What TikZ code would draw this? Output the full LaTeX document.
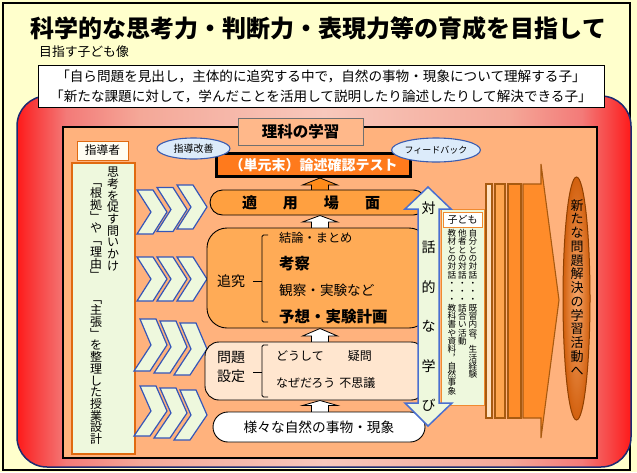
\documentclass[tikz,border=0pt]{standalone}
\usepackage{fontspec}
\setmainfont{Noto Sans CJK JP}
\usetikzlibrary{shapes.geometric}
\definecolor{bgY}{HTML}{FFFFCC}
\definecolor{frameRed}{HTML}{FF1A1A}
\definecolor{frameRedB}{HTML}{F84040}
\definecolor{frameMid}{HTML}{F37A78}
\definecolor{framePink}{HTML}{F4A898}
\definecolor{frameLight}{HTML}{F8C8BC}
\definecolor{navy}{HTML}{1C2A70}
\definecolor{panel}{HTML}{FFB27D}
\definecolor{rikaBox}{HTML}{FFB88A}
\definecolor{rikaEdge}{HTML}{707070}
\definecolor{testOr}{HTML}{FF7A1C}
\definecolor{arrOr}{HTML}{FF8C1A}
\definecolor{tekiyoC}{HTML}{FFA040}
\definecolor{tsuikyuC}{HTML}{FFAB56}
\definecolor{mondaiC}{HTML}{FFE6CF}
\definecolor{mint}{HTML}{EEF8DD}
\definecolor{paleW}{HTML}{FFFDF2}
\definecolor{chevB}{HTML}{3556B8}
\definecolor{ellB}{HTML}{DCEBFA}
\definecolor{ellEdge}{HTML}{3A5CB0}
\definecolor{orEdge}{HTML}{E06A10}
\definecolor{orEdgeB}{HTML}{F08A30}
\definecolor{dblEdge}{HTML}{4A6FD0}
\definecolor{barEdge}{HTML}{A85A10}
\definecolor{barA}{HTML}{FFE0C0}
\definecolor{barB}{HTML}{FFA54F}
\definecolor{barC}{HTML}{FF8C2A}
\definecolor{ellIn}{HTML}{F6A66A}
\definecolor{ellOut}{HTML}{D2600E}
\definecolor{ellEdgeB}{HTML}{904000}
\pgfdeclarehorizontalshading{redframe}{100bp}{color(0bp)=(frameRed); color(25bp)=(frameRed); color(26.5bp)=(frameRedB); color(29bp)=(frameMid); color(35bp)=(framePink); color(50bp)=(frameLight); color(65bp)=(framePink); color(71bp)=(frameMid); color(73.5bp)=(frameRedB); color(75bp)=(frameRed); color(100bp)=(frameRed)}
\newlength\vp \newlength\vw
\setlength\vp{12pt}\setlength\vw{14pt}
\newcommand\fs[1]{\fontsize{#1}{#1}\selectfont}
\newcommand\vcell[1]{\hbox to \vw{\hss\vbox to \vp{\vss\hbox{\vrule height .88em depth .12em width 0pt\smash{#1}}\vss}\hss}}
\makeatletter
\def\vst@end{\vst@end}
\newcommand\vst[1]{\vbox{\offinterlineskip\vst@a#1\vst@end}}
\def\vst@a#1{\ifx\vst@end#1\else\vcell{#1}\expandafter\vst@a\fi}
\makeatother
\newcommand\vtext[3]{\setlength\vp{#1}\setlength\vw{#2}\vst{#3}}
\tikzset{
 box/.style={draw=black, line width=0.9pt, inner sep=0pt},
 chev/.style={draw=chevB, line width=1.2pt, fill=mint, line join=miter},
 uparr/.style={draw=black, line width=0.8pt},
 barstyle/.style={draw=barEdge, line width=1.1pt},
 txt/.style={inner sep=0pt},
}
\newcommand\chevrow[5]{%
 \foreach \k in {0,1,2}{%
  \pgfmathsetmacro\xa{#1+20*\k}%
  \pgfmathsetmacro\yt{#2+#5*\k}%
  \pgfmathsetmacro\yb{#3+#5*\k}%
  \pgfmathsetmacro\ym{(\yt+\yb)/2}%
  \pgfmathsetmacro\sl{#4/2}%
  \draw[chev] (\xa+\sl,\yt) -- (\xa+16+\sl,\yt) -- (\xa+30,\ym) -- (\xa+16-\sl,\yb) -- (\xa-\sl,\yb) -- (\xa+14,\ym) -- cycle;
 }}
\newcommand\upblk[5]{%
 \draw[uparr, fill=#5] (#1-8.5,#2) -- (#1-8.5,#3) -- (#1-17.5,#3) -- (#1,#4) -- (#1+17.5,#3) -- (#1+8.5,#3) -- (#1+8.5,#2) -- cycle;}
\begin{document}
\begin{tikzpicture}[x=1pt,y=-1pt]
\useasboundingbox (0,0) rectangle (637,472);
\fill[bgY] (0,0) rectangle (637,472);
\draw[black,line width=1.2] (3,3) rectangle (630,470);
\node[txt, font=\fs{24}\bfseries] (title) at (318.5,28.5) {科学的な思考力・判断力・表現力等の育成を目指して};
\node[txt, anchor=west, font=\fs{12.8}] (mezasu) at (39,52) {目指す子ども像};
% red frame
\path[draw=navy, line width=1.5, rounded corners=30, shading=redframe] (17,96) rectangle (631,467);
% ideal box
\node[draw=black, line width=0.8, fill=white, minimum width=566, minimum height=42, inner sep=0, align=center, font=\fontsize{13.6}{20}\selectfont] (ideal) at (321,86) {「自ら問題を見出し，主体的に追究する中で，自然の事物・現象について理解する子」\\「新たな課題に対して，学んだことを活用して説明したり論述したりして解決できる子」};
% inner panel
\draw[fill=panel, line width=1.4] (63,127) rectangle (597,458);
% left panel
\node[draw=orEdge, line width=1.8, fill=mint, minimum width=63, minimum height=291, inner sep=0] (plan) at (103.5,308.5) {};
\node[draw=orEdge, line width=1, fill=paleW, minimum width=51, minimum height=19, inner sep=0, font=\fs{11.7}] (shidosha) at (102.5,150.5) {指導者};
\node[txt, anchor=north, font=\fs{12}] (q1) at (113,166) {\vtext{11.7pt}{14pt}{思考を促す問いかけ}};
\node[txt, anchor=north, font=\fs{12}] (q2) at (96,175.5) {\vtext{11.7pt}{14pt}{﹁根拠﹂や﹁理由﹂　﹁主張﹂を整理した授業設計}};
% chevrons
\chevrow{137}{190}{234}{0}{-2.5}
\chevrow{137}{257}{301}{0}{0}
\chevrow{137}{319}{371}{6}{2}
\chevrow{137}{386}{436}{6}{2}
% block arrows
\upblk{320}{192}{185}{178}{arrOr}
\upblk{320}{231}{222}{215.5}{white}
\upblk{320}{345}{336}{328.5}{white}
\upblk{320}{415}{405.5}{400.5}{white}
% central boxes
\node[box, fill=tekiyoC, rounded corners=12.5, minimum width=216, minimum height=25] (tekiyo) at (318,202.5) {};
\node[txt, font=\fs{15}\bfseries] (tekiyoT) at (311,203) {適\hspace{26pt}用\hspace{26pt}場\hspace{26pt}面};
\node[box, fill=tsuikyuC, rounded corners=20, minimum width=222, minimum height=100] (tsuikyu) at (318,278) {};
\node[txt, font=\fs{14}] (tsuikyuT) at (231,281) {追究};
\draw[line width=0.8, rounded corners=1.5] (268,235) -- (262,235) -- (262,322) -- (268,322);
\draw[line width=0.8] (253,281) -- (262,281);
\node[txt, anchor=west, font=\fs{12.2}] (ketsuron) at (279,237.5) {結論・まとめ};
\node[txt, anchor=west, font=\fs{15.5}\bfseries] (kosatsu) at (279,264) {考察};
\node[txt, anchor=west, font=\fs{13.6}] (kansatsu) at (279,290) {観察・実験など};
\node[txt, anchor=west, font=\fs{15.5}\bfseries] (yoso) at (279,317) {予想・実験計画};
\node[box, fill=mondaiC, rounded corners=14, minimum width=220, minimum height=58] (mondai) at (315,371) {};
\node[txt, align=center, font=\fontsize{14}{19}\selectfont] (mondaiT) at (231,367.5) {問題\\設定};
\draw[line width=0.8, rounded corners=1.5] (268,345) -- (262,345) -- (262,397) -- (268,397);
\draw[line width=0.8] (253,372) -- (262,372);
\node[txt, anchor=west, font=\fs{12}] (doushite) at (276,355.5) {どうして\hspace{24pt}疑問};
\node[txt, anchor=west, font=\fs{12}] (nazedarou) at (276,383) {なぜだろう\hspace{4pt}不思議};
\node[box, fill=white, rounded corners=15, minimum width=212, minimum height=30, font=\fs{13.7}] (yoyo) at (319,427) {様々な自然の事物・現象};
% top boxes
\node[draw=black, line width=3, fill=testOr, minimum width=194, minimum height=23, inner sep=0, text=white, font=\fs{14}\bfseries] (test) at (313.5,165) {（単元末）論述確認テスト};
\node[draw=rikaEdge, line width=0.9, fill=rikaBox, minimum width=125, minimum height=27, inner sep=0, font=\fs{15.5}\bfseries] (rika) at (300.5,131.5) {理科の学習};
\node[ellipse, draw=ellEdge, line width=1.1, fill=ellB, minimum width=73, minimum height=21, inner sep=0, font=\fs{10}] (kaizen) at (193.5,148.5) {指導改善};
\node[ellipse, draw=ellEdge, line width=1.1, fill=ellB, minimum width=74, minimum height=24, inner sep=0, font=\fs{9}] (fb) at (436,150) {フィードバック};
% right: kodomo box
\node[draw=orEdgeB, line width=1, fill=mint, minimum width=43, minimum height=196, inner sep=0] (kbox) at (462.5,307) {};
\node[draw=orEdgeB, line width=1, fill=white, minimum width=39, minimum height=15, inner sep=0, font=\fs{10}] (klabel) at (462.5,219.5) {子ども};
\node[txt, anchor=north, font=\fs{8.6}] (col1) at (473,228.9) {\vtext{8.3pt}{10pt}{自分との対話・・・既習内容︐生活経験}};
\node[txt, anchor=north, font=\fs{8.6}] (col2) at (462.5,228.9) {\vtext{8.3pt}{10pt}{他者との対話・・・話合い活動}};
\node[txt, anchor=north, font=\fs{8.6}] (col3) at (452,228.9) {\vtext{8.3pt}{10pt}{教材との対話・・・教科書や資料︐自然事象}};
% double arrow
\draw[draw=dblEdge, line width=1.5, fill=mint, line join=miter] (428,187) -- (451,209) -- (439,209) -- (439,403) -- (452,403) -- (428,426) -- (405,403) -- (418,403) -- (418,209) -- (405,209) -- cycle;
\node[txt, anchor=north, font=\fs{14}] (taiwa) at (428.5,188.3) {\vtext{39.4pt}{16pt}{対話的な学び}};
% stripes
\draw[barstyle, fill=barA] (486,184) rectangle (492,418);
\draw[barstyle, fill=barB] (495,184) rectangle (505,418);
\draw[barstyle, fill=barC] (508,184) rectangle (521,418);
\draw[barstyle, fill=barC, line join=miter] (523,184) -- (541,184) -- (541,164) -- (559,300) -- (541,438) -- (541,418) -- (523,418) -- cycle;
% final ellipse
\node[ellipse, draw=ellEdgeB, line width=1, inner color=ellIn, outer color=ellOut, minimum width=27, minimum height=243, inner sep=0] (next) at (576.5,298.5) {};
\node[txt, anchor=north, font=\fs{13}] (nextT) at (577,198.1) {\vtext{13.75pt}{15pt}{新たな問題解決の学習活動へ}};
\end{tikzpicture}
\end{document}
